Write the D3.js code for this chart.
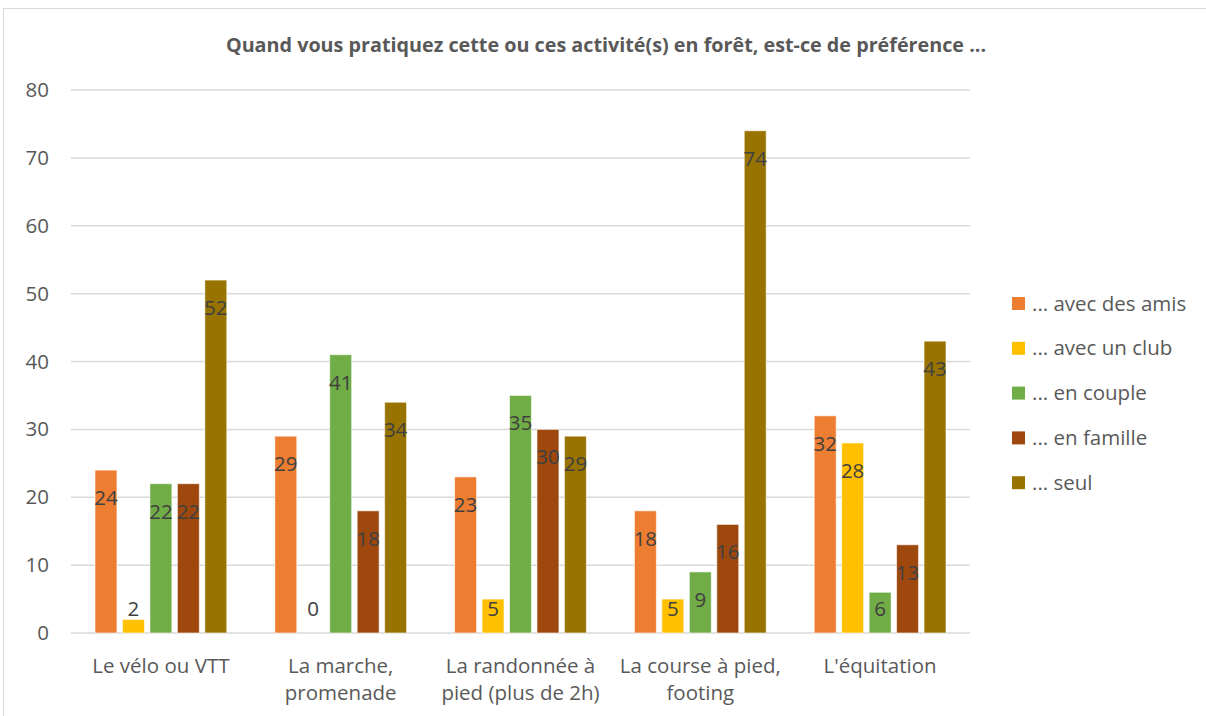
<!DOCTYPE html>
<html>
<head>
<meta charset="utf-8">
<script src="https://cdn.jsdelivr.net/npm/d3@7"></script>
<style>
  body { margin: 0; background: #fff; }
  text { font-family: "Open Sans", "Noto Sans", sans-serif; }
</style>
</head>
<body>
<div id="chart"></div>
<script>
const categories = [
  ["Le vélo ou VTT"],
  ["La marche,", "promenade"],
  ["La randonnée à", "pied (plus de 2h)"],
  ["La course à pied,", "footing"],
  ["L'équitation"]
];
const seriesNames = ["... avec des amis", "... avec un club", "... en couple", "... en famille", "... seul"];
const seriesColors = ["#ED7D31", "#FFC000", "#70AD47", "#9E480E", "#997300"];
const amis    = [24, 29, 23, 18, 32];
const club    = [2, 0, 5, 5, 28];
const couple  = [22, 41, 35, 9, 6];
const famille = [22, 18, 30, 16, 13];
const seul    = [52, 34, 29, 74, 43];
const yTicks = [0, 10, 20, 30, 40, 50, 60, 70, 80];
const title = "Quand vous pratiquez cette ou ces activité(s) en forêt, est-ce de préférence ...";

const seriesValues = [amis, club, couple, famille, seul];

const W = 1206, H = 716;
const margin = { LEFT: 71, RIGHT: 236, TOP: 90, BOTTOM: 83 };
const plotW = W - margin.LEFT - margin.RIGHT;
const plotH = H - margin.TOP - margin.BOTTOM;

const svg = d3.select("#chart").append("svg")
  .attr("width", W)
  .attr("height", H);

// outer chart frame
svg.append("rect")
  .attr("x", 3.5).attr("y", 8.5)
  .attr("width", 1220).attr("height", 730)
  .attr("fill", "none")
  .attr("stroke", "#d9d9d9")
  .attr("stroke-width", 1);

// title
const titleText = svg.append("text")
  .attr("x", 606)
  .attr("y", 52)
  .attr("text-anchor", "middle")
  .attr("font-size", "18px")
  .attr("font-weight", "bold")
  .attr("fill", "#595959")
  .text(title);
// keep title width close to the reference (~760px)
const tw = titleText.node().getComputedTextLength();
titleText.attr("font-size", (18 * 760 / tw).toFixed(2) + "px");

const g = svg.append("g")
  .attr("transform", `translate(${margin.LEFT}, ${margin.TOP})`);

// scales
const y = d3.scaleLinear().domain([0, 80]).range([plotH, 0]);
const x0 = d3.scaleBand().domain(d3.range(categories.length)).range([0, plotW]).padding(0);
const x1 = d3.scaleBand().domain(d3.range(seriesNames.length))
  .range([24, x0.bandwidth() - 24])
  .paddingInner(0.2).paddingOuter(0);

// gridlines
g.selectAll(".grid")
  .data(yTicks)
  .enter().append("line")
  .attr("class", "grid")
  .attr("x1", 0).attr("x2", plotW)
  .attr("y1", d => y(d)).attr("y2", d => y(d))
  .attr("stroke", "#d9d9d9")
  .attr("stroke-width", 1.5);

// y axis labels
const yAxisCall = d3.axisLeft(y).tickValues(yTicks).tickSize(0).tickPadding(22);
const yAxis = g.append("g").call(yAxisCall);
yAxis.select(".domain").remove();
yAxis.selectAll("text")
  .attr("font-size", "20.5px")
  .attr("fill", "#595959")
  .style("font-family", "\"Open Sans\", sans-serif");

// bars
const groups = g.selectAll(".cat")
  .data(categories)
  .enter().append("g")
  .attr("class", "cat")
  .attr("transform", (d, i) => `translate(${x0(i)}, 0)`);

groups.each(function (c, ci) {
  const grp = d3.select(this);
  const vals = seriesValues.map(s => s[ci]);
  grp.selectAll("rect")
    .data(vals)
    .enter().append("rect")
    .attr("x", (d, si) => x1(si))
    .attr("y", d => y(d))
    .attr("width", x1.bandwidth())
    .attr("height", d => plotH - y(d))
    .attr("fill", (d, si) => seriesColors[si])
    .attr("stroke", "rgba(255,255,255,0.6)")
    .attr("stroke-width", 1);

  grp.selectAll(".lbl")
    .data(vals)
    .enter().append("text")
    .attr("class", "lbl")
    .attr("x", (d, si) => x1(si) + x1.bandwidth() / 2)
    .attr("y", d => Math.min(y(d) + 35, plotH - 17))
    .attr("text-anchor", "middle")
    .attr("font-size", "20.5px")
    .attr("fill", "#404040")
    .text(d => d);
});

// category labels
const catLabels = g.selectAll(".catlbl")
  .data(categories)
  .enter().append("text")
  .attr("class", "catlbl")
  .attr("x", (d, i) => x0(i) + x0.bandwidth() / 2)
  .attr("y", plotH + 40)
  .attr("text-anchor", "middle")
  .attr("font-size", "20.5px")
  .attr("fill", "#595959");
catLabels.selectAll("tspan")
  .data(d => d)
  .enter().append("tspan")
  .attr("x", function () { return d3.select(this.parentNode).attr("x"); })
  .attr("dy", (d, i) => i === 0 ? 0 : 27)
  .text(d => d);

// legend
const legend = svg.append("g")
  .attr("transform", "translate(1012, 303)");
const items = legend.selectAll(".item")
  .data(seriesNames)
  .enter().append("g")
  .attr("class", "item")
  .attr("transform", (d, i) => `translate(0, ${i * 44.8})`);
items.append("rect")
  .attr("x", 0).attr("y", -6)
  .attr("width", 13).attr("height", 13)
  .attr("fill", (d, i) => seriesColors[i]);
items.append("text")
  .attr("x", 20)
  .attr("y", 7.5)
  .attr("font-size", "20.5px")
  .attr("fill", "#595959")
  .text(d => d);
</script>
</body>
</html>
